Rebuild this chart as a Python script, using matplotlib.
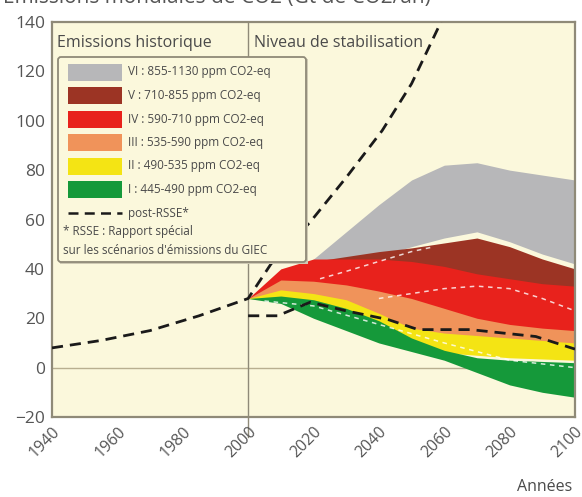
import matplotlib
matplotlib.use("Agg")
import matplotlib.pyplot as plt
from matplotlib.patches import FancyBboxPatch, Rectangle
from matplotlib.lines import Line2D

plt.rcParams["font.family"] = ["Open Sans", "DejaVu Sans"]

W, H = 582, 497
CREAM = "#fbf8dc"
FRAME = "#8f8a78"
TXT = "#4a4a4a"

# ── data ──────────────────────────────────────────────────────────────────────
years = [2000, 2010, 2020, 2030, 2040, 2050, 2060, 2070, 2080, 2090, 2100]

vi_low  = [28, 33, 38, 42, 45, 49, 52.5, 55, 51, 46, 42]
vi_up   = [28, 35, 44, 55, 66, 76, 82, 83, 80, 78, 76]
v_low   = [28, 32, 34, 33, 32, 30, 28, 26, 24, 22, 20]
v_up    = [28, 38, 43, 45, 47, 48.5, 50.5, 52.5, 49, 44, 40]
iv_low  = [28, 30, 28, 25, 22, 19, 16, 15, 14, 13, 13]
iv_up   = [28, 40, 44, 44, 44, 43, 41, 38, 36, 34, 33]
iii_low = [28, 28, 24, 20, 16, 12, 9, 7, 6, 5, 5]
iii_up  = [28, 35.5, 35, 33.5, 31, 28, 24, 20, 17.5, 16, 15]
ii_low  = [28, 27, 22, 17, 12, 8, 6, 5, 4, 3.5, 3]
ii_up   = [28, 31.5, 30, 27.5, 22, 16, 14, 13, 12, 11, 10]
i_low   = [28, 26, 20, 15, 10, 6.5, 3, -2, -7, -10, -12]
i_up    = [28, 29, 27.5, 24, 19, 12, 7, 4, 3, 2.5, 2]

# post-RSSE scenarios (black dashed)
sres_hi_years = [1940, 1955, 1970, 1985, 2000, 2007, 2019, 2030, 2041, 2050, 2059]
sres_hi_vals  = [8, 11, 15, 21, 28, 42, 59, 77, 96, 115, 140]
sres_lo_years = [2000, 2009, 2019, 2030, 2043, 2052, 2068, 2088, 2100]
sres_lo_vals  = [21, 21, 26.5, 23, 19.4, 15.4, 15.4, 12.6, 7.5]

# category medians (white dashed)
med_v_years  = [2022, 2030, 2040, 2050, 2057]
med_v_vals   = [36, 39, 43, 47, 49]
med_iv_years = [2040, 2050, 2060, 2070, 2080, 2090, 2100]
med_iv_vals  = [28, 30, 32, 33, 32, 28, 23]
med_i_years  = [2005, 2020, 2040, 2060, 2080, 2100]
med_i_vals   = [27, 25, 17.5, 10, 3, 0]

bands = [
    ("VI : 855-1130 ppm CO2-eq", "#b7b7b9", vi_low, vi_up),
    ("V : 710-855 ppm CO2-eq", "#9c3424", v_low, v_up),
    ("IV : 590-710 ppm CO2-eq", "#e8221c", iv_low, iv_up),
    ("III : 535-590 ppm CO2-eq", "#f0935a", iii_low, iii_up),
    ("II : 490-535 ppm CO2-eq", "#f4e414", ii_low, ii_up),
    ("I : 445-490 ppm CO2-eq", "#15993a", i_low, i_up),
]

xticks = [1940, 1960, 1980, 2000, 2020, 2040, 2060, 2080, 2100]
yticks = [-20, 0, 20, 40, 60, 80, 100, 120, 140]

# ── figure ────────────────────────────────────────────────────────────────────
fig = plt.figure(figsize=(W / 100, H / 100), dpi=100)
fig.patch.set_facecolor("white")
ax = fig.add_axes([52 / W, 1 - 417 / H, (575 - 52) / W, (417 - 22) / H])
ax.set_facecolor(CREAM)
ax.set_xlim(1940, 2100)
ax.set_ylim(-20, 140)

for label, color, lo, up in bands:
    ax.fill_between(years, lo, up, color=color, lw=0, zorder=2)

for yy, vv in [(med_v_years, med_v_vals), (med_iv_years, med_iv_vals),
               (med_i_years, med_i_vals)]:
    ax.plot(yy, vv, color="white", lw=1.1, ls=(0, (3, 3)), alpha=0.8, zorder=3)

ax.plot(sres_hi_years, sres_hi_vals, color="#1a1a1a", lw=2, ls=(0, (4, 2.5)), zorder=4)
ax.plot(sres_lo_years, sres_lo_vals, color="#1a1a1a", lw=2, ls=(0, (4, 2.5)), zorder=4)

ax.axhline(0, color="#b8af90", lw=1, zorder=1)
ax.axvline(2000, ymin=-0.05, ymax=1, color=FRAME, lw=1, zorder=1, clip_on=False)

for s in ax.spines.values():
    s.set_color(FRAME)
    s.set_linewidth(1.6)
ax.set_xticks(xticks)
ax.set_yticks(yticks)
ax.tick_params(length=0, labelsize=12.5, colors="#555555", pad=5)
ax.set_xticklabels([str(x) for x in xticks], rotation=45, ha="right",
                   va="top", rotation_mode="anchor")
for t in ax.get_xticklabels():
    t.set_fontsize(11.5)

# ── overlay in pixel coords (header, legend, title) ──────────────────────────
ov = fig.add_axes([0, 0, 1, 1])
ov.set_xlim(0, W); ov.set_ylim(H, 0); ov.axis("off")
ov.patch.set_alpha(0)

fig.text(0.005, 1 - 3 / H, "Émissions mondiales de CO2 (Gt de CO2/an)",
         fontsize=15, color="#555555", va="baseline")

ov.text(57, 43, "Emissions historique", fontsize=11.5, color=TXT, va="center")
ov.text(254, 43, "Niveau de stabilisation", fontsize=11.5, color=TXT, va="center")

ov.add_patch(FancyBboxPatch((60, 59), 248, 205, boxstyle="square,pad=0",
             facecolor="#cfcab4", edgecolor="none", zorder=5))
ov.add_patch(FancyBboxPatch((58, 57), 248, 205, boxstyle="round,pad=0,rounding_size=3",
             facecolor=CREAM, edgecolor=FRAME, lw=1.3, zorder=6))
for i, (label, color, lo, up) in enumerate(bands):
    cy = 72 + i * 23.5
    ov.add_patch(Rectangle((68, cy - 8.5), 54, 17, facecolor=color,
                           edgecolor="none", zorder=7))
    ov.text(128, cy, label, fontsize=8.5, color=TXT, va="center", zorder=7)
ov.add_line(Line2D([68, 122], [213, 213], color="#1a1a1a", lw=1.8,
                   ls=(0, (4, 2.5)), zorder=7))
ov.text(128, 213, "post-RSSE*", fontsize=8.5, color=TXT, va="center", zorder=7)
ov.text(63, 232, "* RSSE : Rapport spécial", fontsize=8.5, color=TXT,
        va="center", zorder=7)
ov.text(63, 251, "sur les scénarios d'émissions du GIEC", fontsize=8.5,
        color=TXT, va="center", zorder=7)

ov.text(545, 487, "Années", fontsize=11.5, color=TXT, ha="center", va="center")

plt.savefig("out.png", dpi=100, facecolor="white")
plt.close()
